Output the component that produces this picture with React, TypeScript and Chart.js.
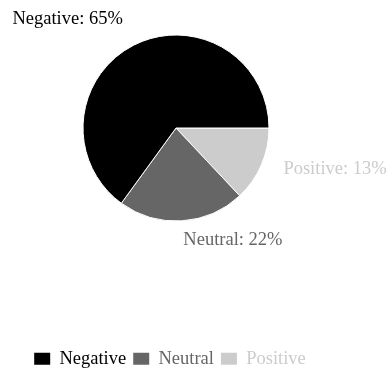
import { useEffect, useRef } from 'react';
import { Chart, registerables } from 'chart.js';

Chart.register(...registerables);

// ---- data ----
const categories = ['Negative', 'Neutral', 'Positive'];
const shares = [65, 22, 13];
const sliceColors = ['#000000', '#666666', '#cccccc'];

// ---- layout / style ----
const FONT_FAMILY = '"Liberation Serif", "Times New Roman", serif';
const FONT_SIZE = 18.5;
const PIE_CX = 176;
const PIE_CY = 128;
const PIE_R = 93;
const LABEL_GAP = 24;

const pieAreaPlugin = {
  id: 'pieArea',
  afterLayout(chart: any) {
    chart.chartArea = {
      left: PIE_CX - PIE_R,
      top: PIE_CY - PIE_R,
      right: PIE_CX + PIE_R,
      bottom: PIE_CY + PIE_R,
      width: PIE_R * 2,
      height: PIE_R * 2,
    };
  },
};

const outsideLabelsPlugin = {
  id: 'outsideLabels',
  afterDatasetsDraw(chart: any) {
    const meta = chart.getDatasetMeta(0);
    const ds = chart.data.datasets[0];
    const ctx = chart.ctx;
    ctx.save();
    ctx.font = `${FONT_SIZE}px ${FONT_FAMILY}`;
    ctx.textBaseline = 'alphabetic';
    meta.data.forEach((arc: any, i: number) => {
      const { x, y, startAngle, endAngle, outerRadius } = arc.getProps(
        ['x', 'y', 'startAngle', 'endAngle', 'outerRadius'],
        true
      );
      const mid = (startAngle + endAngle) / 2;
      const r = outerRadius + LABEL_GAP;
      const px = x + Math.cos(mid) * r;
      const py = y + Math.sin(mid) * r;
      ctx.textAlign = Math.cos(mid) >= 0 ? 'left' : 'right';
      ctx.fillStyle = ds.backgroundColor[i];
      ctx.fillText(`${chart.data.labels[i]}: ${ds.data[i]}%`, px, py);
    });
    ctx.restore();
  },
};

export default function App() {
  const canvasRef = useRef<HTMLCanvasElement | null>(null);

  useEffect(() => {
    if (!canvasRef.current) return;
    // draw clockwise from 3 o'clock: Positive, Neutral, Negative
    const order = categories.map((_, i) => i).reverse();
    const chart = new Chart(canvasRef.current, {
      type: 'pie',
      data: {
        labels: order.map((i) => categories[i]),
        datasets: [
          {
            data: order.map((i) => shares[i]),
            backgroundColor: order.map((i) => sliceColors[i]),
            borderColor: '#ffffff',
            borderWidth: 1,
          },
        ],
      },
      options: {
        responsive: false,
        animation: false,
        rotation: 90,
        radius: PIE_R,
        layout: { padding: { left: 0, right: 50, top: 0, bottom: 0 } },
        plugins: {
          tooltip: { enabled: false },
          legend: {
            position: 'bottom',
            labels: {
              boxWidth: 16,
              boxHeight: 12,
              padding: 7,
              font: { family: FONT_FAMILY, size: FONT_SIZE },
              sort: (a: any, b: any) => b.index - a.index,
              generateLabels: (c: any) => {
                const items = (Chart as any).overrides.pie.plugins.legend.labels.generateLabels(c);
                return items.map((it: any) => ({
                  ...it,
                  fontColor: it.fillStyle,
                  lineWidth: 0,
                  strokeStyle: it.fillStyle,
                }));
              },
            },
          },
        },
      } as any,
      plugins: [pieAreaPlugin, outsideLabelsPlugin],
    });
    return () => chart.destroy();
  }, []);

  return (
    <div
      style={{
        position: 'fixed',
        left: 0,
        top: 0,
        width: 390,
        height: 368,
        overflow: 'hidden',
        background: '#ffffff',
      }}
    >
      <canvas ref={canvasRef} width={390} height={378} style={{ width: 390, height: 378, display: 'block' }} />
    </div>
  );
}
